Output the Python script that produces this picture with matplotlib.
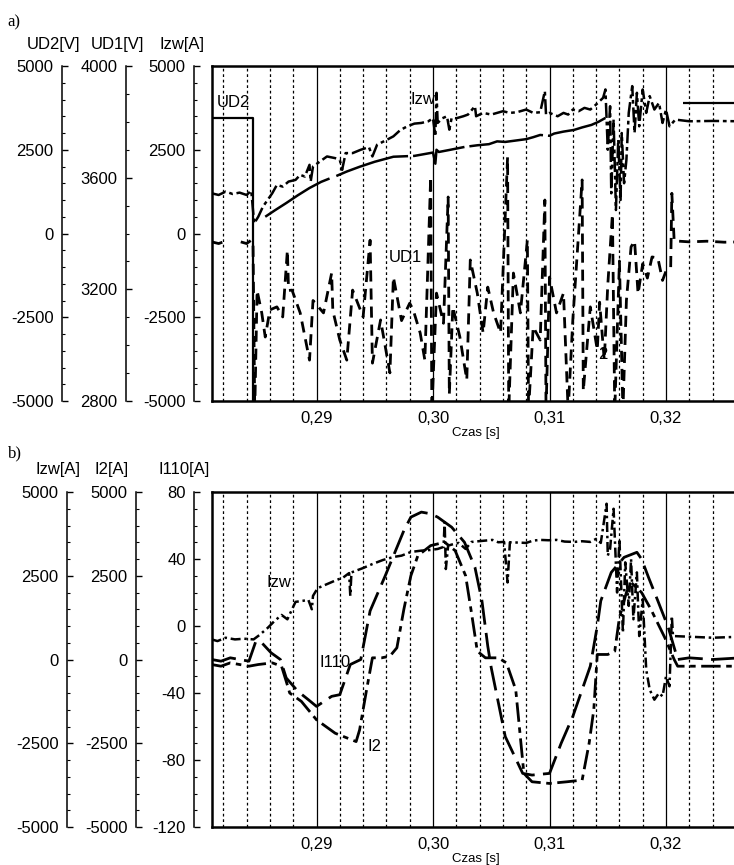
"""
Two-panel oscillogram: a) UD2, UD1, Izw and b) Izw, I2, I110 against time.
"""

import numpy as np
import matplotlib.pyplot as plt
from matplotlib.ticker import MultipleLocator

plt.rcParams['font.family'] = ['Liberation Sans', 'DejaVu Sans']

W, H = 734, 865
nan = np.nan

# ---------------- panel a) ----------------
ud2_t = [0.28103, 0.28455, 0.28455, nan, 0.3215, 0.3264]
ud2_v = [3450, 3450, -5300, nan, 3900, 3900]

izw_a_t = [0.2810, 0.2816, 0.2822, 0.2828, 0.2834, 0.2840, 0.2844, 0.28465, 0.2850, 0.2854,
           0.2858, 0.2862, 0.2866, 0.2871, 0.2876, 0.2882, 0.2886, 0.2890, 0.2894, 0.2895,
           0.2897, 0.2903, 0.2909, 0.2916, 0.2920, 0.2922, 0.2925, 0.2931, 0.2938, 0.2945,
           0.2948, 0.2952, 0.2960, 0.2966, 0.2972, 0.2978, 0.2984, 0.2990, 0.2996, 0.3000,
           0.3002, 0.3003, 0.3004, 0.3008, 0.3012, 0.3014, 0.3016, 0.3020, 0.3026, 0.3030,
           0.3036, 0.3037, 0.3043, 0.3050, 0.3055, 0.3060, 0.3066, 0.3072, 0.3080, 0.3086,
           0.3092, 0.3096, 0.3097, 0.3100, 0.3107, 0.3112, 0.3116, 0.3120, 0.3125, 0.3130,
           0.3135, 0.3140, 0.3146, 0.3148, 0.3150, 0.3152, 0.3153, 0.3155, 0.3157, 0.3159,
           0.3161, 0.3162, 0.3164, 0.3166, 0.3168, 0.3171, 0.3173, 0.3175, 0.3177, 0.3180,
           0.3183, 0.3186, 0.3190, 0.3194, 0.3197, 0.3200, 0.3203, 0.3208, 0.3220, 0.3240,
           0.3264]
izw_a_v = [1200, 1150, 1250, 1180, 1220, 1150, 1280, 300, 500, 800,
           1000, 1200, 1450, 1400, 1550, 1600, 1750, 1700, 2050, 1550,
           2000, 2150, 2300, 2250, 2200, 1900, 2400, 2400, 2500, 2580,
           2300, 2650, 2790, 2900, 3090, 3200, 3280, 3300, 3350, 3440,
           2900, 4200, 3300, 3440, 3500, 3100, 3450, 3440, 3500, 3550,
           3800, 3500, 3600, 3550, 3600, 3650, 3600, 3620, 3700, 3600,
           3620, 4250, 3550, 3600, 3500, 3600, 3550, 3700, 3650, 3750,
           3700, 3850, 4050, 4300, 2500, 3800, 1200, 3400, 700, 2800,
           1000, 3000, 1500, 2200, 3600, 4400, 3000, 4200, 3200, 4300,
           3600, 4100, 3700, 3900, 3300, 3700, 3200, 3400, 3350, 3360,
           3350]

ud1_t = [0.2856, 0.2865, 0.2874, 0.2884, 0.2894, 0.2904, 0.2913, nan, 0.2917, 0.2926,
         0.2937, 0.2950, 0.2966, 0.2984, 0.3000, 0.3002, 0.3003, 0.3005, 0.3015, 0.3027,
         0.3038, 0.3048, 0.3055, 0.3062, 0.3071, 0.3080, 0.3086, 0.3092, 0.3100, 0.3104,
         0.3112, 0.3121, 0.3128, 0.3136, 0.3142, 0.3148]
ud1_v = [3460, 3485, 3509, 3537, 3563, 3585, 3600, nan, 3606, 3622,
         3639, 3657, 3675, 3678, 3690, 3650, 3700, 3692, 3700, 3710,
         3716, 3720, 3730, 3728, 3733, 3738, 3745, 3753, 3750, 3758,
         3765, 3771, 3780, 3789, 3800, 3814]

i2_a_t = [0.2810, 0.2816, 0.2820, 0.2824, nan, 0.2835, 0.2840, 0.2844, 0.28455, 0.2847,
          0.2849, 0.2853, 0.2856, 0.2860, 0.2866, 0.2871, 0.2875, 0.2876, 0.2879, 0.2886,
          0.2894, 0.2897, 0.2906, 0.2913, 0.2914, 0.2920, 0.2926, 0.2931, 0.2940, 0.2946,
          0.2948, 0.2955, 0.2963, 0.2966, 0.2973, 0.2980, 0.2983, 0.2989, 0.2993, 0.2998,
          0.2999, 0.3003, 0.3009, 0.3013, 0.3014, 0.3017, 0.3023, 0.3029, 0.3032, 0.3038,
          0.3043, 0.3047, 0.3052, 0.3058, 0.3064, 0.3065, 0.3069, 0.3075, 0.3081, 0.3082,
          0.3086, 0.3092, 0.3096, 0.3097, 0.3100, 0.3106, 0.3112, 0.3116, 0.3120, 0.3128,
          0.3129, 0.3135, 0.3141, 0.3143, 0.3147, 0.3150, 0.3154, 0.3156, 0.3160, 0.3163,
          0.3166, 0.3170, 0.3173, 0.3176, 0.3180, 0.3184, 0.3188, 0.3193, 0.3197, 0.3200,
          0.3204, 0.3205, 0.3207, 0.3220, 0.3235, 0.3250, 0.3264]
i2_a_v = [-250, -300, -250, -200, nan, -250, -300, -200, -250, -5300,
          -1700, -2370, -3090, -2280, -2190, -2490, -500, -1700, -1690, -2370,
          -3780, -2000, -2370, -1180, -2300, -3180, -3780, -1690, -2490, -200,
          -3870, -2580, -4160, -1300, -2600, -2080, -2280, -2970, -3780, 1690,
          -5300, -1780, -2680, 1090, -4800, -2190, -3080, -4370, -790, -1780,
          -2970, -1600, -2370, -2970, 2280, -5300, -1180, -2370, -190, -5300,
          -2790, -3180, 1000, -5300, -1300, -2370, -1780, -5300, -2580, 1600,
          -4700, -2190, -3480, -2050, -3780, -1540, 580, -5300, -820, -5300,
          -2000, -400, -220, -1800, -900, -1330, -700, -730, -1400, -1120,
          -1030, 1200, -220, -250, -230, -260, -250]

# ---------------- panel b) ----------------
izw_b_t = [0.2810, 0.2815, 0.2822, 0.2830, 0.2838, 0.2846, 0.2851, 0.2858, 0.2864, 0.2870,
           0.2875, 0.2882, 0.2888, 0.2893, 0.2896, 0.2897, 0.2901, 0.2909, 0.2917, 0.2923,
           0.2928, 0.2929, 0.2930, 0.2940, 0.2948, 0.2957, 0.2966, 0.2973, 0.2981, 0.2990,
           0.2998, 0.3004, 0.3009, 0.3010, 0.3011, 0.3013, 0.3018, 0.3022, 0.3028, 0.3033,
           0.3042, 0.3051, 0.3056, 0.3061, 0.3064, 0.3066, 0.3073, 0.3080, 0.3086, 0.3092,
           0.3099, 0.3106, 0.3113, 0.3121, 0.3128, 0.3135, 0.3140, 0.3144, 0.3149, 0.3150,
           0.3152, 0.3155, 0.3158, 0.3160, 0.3163, 0.3165, 0.3168, 0.3170, 0.3172, 0.3175,
           0.3177, 0.3180, 0.3183, 0.3186, 0.3190, 0.3194, 0.3197, 0.3200, 0.3203, 0.3205,
           0.3206, 0.3220, 0.3240, 0.3264]
izw_b_v = [600, 550, 650, 600, 620, 600, 730, 940, 1150, 1330,
           1200, 1720, 1750, 1780, 1500, 1900, 2130, 2250, 2370, 2450,
           2580, 1900, 2600, 2730, 2850, 2970, 3060, 3100, 3210, 3250,
           3270, 3300, 3360, 4100, 2700, 3400, 3450, 3480, 3300, 3510,
           3540, 3570, 3500, 3510, 2300, 3500, 3490, 3480, 3550, 3570,
           3560, 3570, 3520, 3510, 3530, 3510, 3600, 3480, 4650, 3100,
           3300, 4500, 2000, 3600, 800, 2900, 1600, 3000, 1200, 2600,
           700, 1800, -300, -900, -1200, -1000, -1100, -500, -800, 1300,
           700, 680, 650, 680]

i110_t = [0.2810, 0.2818, 0.2826, 0.2834, 0.2842, 0.2848, 0.2853, 0.2861, 0.2869, 0.2874,
          0.2884, 0.2893, 0.2900, 0.2913, 0.2920, 0.2929, 0.2938, 0.2946, 0.2959, 0.2975,
          0.2981, 0.2990, 0.2998, 0.3004, 0.3016, 0.3027, 0.3036, 0.3042, 0.3047, 0.3050,
          0.3062, 0.3077, 0.3085, 0.3100, 0.3110, 0.3120, 0.3135, 0.3141, 0.3144, 0.3153,
          0.3164, 0.3175, 0.3179, 0.3185, 0.3193, 0.3202, 0.3210, 0.3220, 0.3240, 0.3264]
i110_v = [-20, -21, -19, -20, -21, -9, -10, -16, -20, -31,
          -39, -44, -48, -42, -41, -23, -20, 9, 30, 57,
          65, 68, 67, 65, 59, 50, 35, 15, -12, -25,
          -66, -88, -89, -88, -70, -54, -24, 0, 15, 32,
          41, 44, 40, 29, 15, -1, -20, -19, -20, -19]

i2_b_t = [0.2810, 0.2818, 0.2826, 0.2834, 0.2842, 0.2850, 0.2862, 0.2870, 0.2874, 0.2877,
          0.2887, 0.2900, 0.2916, 0.2934, 0.2937, 0.2943, 0.2948, 0.2956, 0.2963, 0.2969,
          0.2975, 0.2981, 0.2987, 0.2998, 0.3010, 0.3019, 0.3028, 0.3033, 0.3038, 0.3045,
          0.3056, 0.3063, 0.3071, 0.3078, 0.3085, 0.3100, 0.3115, 0.3128, 0.3134, 0.3138,
          0.3141, 0.3150, 0.3156, 0.3160, 0.3166, 0.3170, 0.3179, 0.3187, 0.3199, 0.3207,
          0.3210, 0.3230, 0.3264]
i2_b_v = [-150, -200, -100, -150, -200, -150, -100, -200, -650, -1000,
          -1250, -1800, -2200, -2450, -2100, -900, 50, 50, 100, 350,
          1500, 2500, 3100, 3400, 3500, 3250, 2500, 1400, 250, 50,
          50, -100, -900, -3400, -3650, -3700, -3650, -3600, -2500, -1500,
          150, 150, 250, 1250, 2000, 2300, 2000, 1500, 650, 0,
          -200, -200, -200]

time_ticks = [0.29, 0.30, 0.31, 0.32]
time_labels = ['0,29', '0,30', '0,31', '0,32']

t_left, t_right = 0.28103, 0.32635   # at pixel 212 and 740
box_left_px, box_right_px = 212, 740


def fx(px):
    return px / W


def fy(py):
    return 1 - py / H


def scale_axis(fig, x_px, top_px, bot_px, ylim, ticks, minor, title, title_x, title_y):
    ax = fig.add_axes([fx(x_px), fy(bot_px), 0.0005, (bot_px - top_px) / H])
    ax.set_ylim(*ylim)
    for s in ['top', 'right', 'bottom']:
        ax.spines[s].set_visible(False)
    ax.spines['left'].set_linewidth(1.1)
    ax.set_xticks([])
    ax.set_yticks(ticks)
    ax.set_yticklabels([str(v) for v in ticks])
    ax.yaxis.set_minor_locator(MultipleLocator(minor))
    ax.tick_params(axis='y', which='major', direction='in', length=4, width=1, pad=6, labelsize=12)
    ax.tick_params(axis='y', which='minor', direction='in', length=2, width=0.8)
    ax.patch.set_visible(False)
    fig.text(fx(title_x), fy(title_y), title, ha='center', va='center', fontsize=12)
    return ax


def main_axes(fig, top_px, bot_px, ylim):
    ax = fig.add_axes([fx(box_left_px), fy(bot_px), (box_right_px - box_left_px) / W,
                       (bot_px - top_px) / H])
    ax.set_xlim(t_left, t_right)
    ax.set_ylim(*ylim)
    ax.spines['right'].set_visible(False)
    for s in ['left', 'top', 'bottom']:
        ax.spines[s].set_linewidth(1.8)
    ax.set_yticks([])
    ax.set_xticks(time_ticks)
    ax.set_xticklabels(time_labels)
    ax.xaxis.set_minor_locator(MultipleLocator(0.002))
    ax.tick_params(axis='x', which='both', length=0, pad=7, labelsize=12)
    ax.grid(which='major', axis='x', color='black', linewidth=0.9, linestyle='-')
    ax.grid(which='minor', axis='x', color='black', linewidth=0.9, linestyle=(0, (2.2, 2.2)))
    ax.set_axisbelow(True)
    ax.set_xlabel('Czas [s]', fontsize=9.5, labelpad=1)
    return ax


def overlay(ax, ylim):
    tw = ax.twinx()
    tw.set_ylim(*ylim)
    tw.axis('off')
    return tw


fig = plt.figure(figsize=(W / 100, H / 100), dpi=100)

# ---- panel a ----
a_top, a_bot = 66, 401
fig.text(fx(7), fy(22), 'a)', fontsize=12, family='Liberation Serif', va='center')
scale_axis(fig, 62, a_top, a_bot, (-5000, 5000), [-5000, -2500, 0, 2500, 5000], 500, 'UD2[V]', 54, 44)
scale_axis(fig, 126, a_top, a_bot, (2800, 4000), [2800, 3200, 3600, 4000], 100, 'UD1[V]', 117, 44)
scale_axis(fig, 194, a_top, a_bot, (-5000, 5000), [-5000, -2500, 0, 2500, 5000], 500, 'Izw[A]', 182, 44)

ax_a = main_axes(fig, a_top, a_bot, (-5000, 5000))
ax_a.plot(ud2_t, ud2_v, color='black', lw=1.6, solid_capstyle='butt')
ax_a.plot(izw_a_t, izw_a_v, color='black', lw=1.8, linestyle=(0, (6, 1.5, 1.5, 1.5)))
ax_a.plot(i2_a_t, i2_a_v, color='black', lw=2.0, linestyle=(0, (4, 2.5)))
ax_ud1 = overlay(ax_a, (2800, 4000))
ax_ud1.plot(ud1_t, ud1_v, color='black', lw=1.8, linestyle=(0, (30, 2)))

ax_a.text(0.2814, 3920, 'UD2', fontsize=12, ha='left', va='center')
ax_a.text(0.2991, 4000, 'Izw', fontsize=12, ha='center', va='center')
ax_a.text(0.2976, -730, 'UD1', fontsize=12, ha='center', va='center')
ax_a.text(0.3146, -3620, '2', fontsize=12, ha='center', va='center')

# ---- panel b ----
b_top, b_bot = 492, 827
fig.text(fx(8), fy(453), 'b)', fontsize=12, family='Liberation Serif', va='center')
scale_axis(fig, 67, b_top, b_bot, (-5000, 5000), [-5000, -2500, 0, 2500, 5000], 500, 'Izw[A]', 58, 470)
scale_axis(fig, 136, b_top, b_bot, (-5000, 5000), [-5000, -2500, 0, 2500, 5000], 500, 'I2[A]', 112, 470)
scale_axis(fig, 194, b_top, b_bot, (-120, 80), [-120, -80, -40, 0, 40, 80], 10, 'I110[A]', 184, 470)

ax_b = main_axes(fig, b_top, b_bot, (-120, 80))
ax_b.plot(i110_t, i110_v, color='black', lw=2.0, linestyle=(0, (9, 3)))
ax_bi = overlay(ax_b, (-5000, 5000))
ax_bi.plot(i2_b_t, i2_b_v, color='black', lw=2.0, linestyle=(0, (7, 2, 2, 2)))
ax_bi.plot(izw_b_t, izw_b_v, color='black', lw=1.8, linestyle=(0, (4, 1.5, 1, 1.5)))

ax_b.text(0.2868, 26, 'Izw', fontsize=12, ha='center', va='center')
ax_b.text(0.2916, -21.5, 'I110', fontsize=12, ha='center', va='center')
ax_b.text(0.2950, -72, 'I2', fontsize=12, ha='center', va='center')

fig.savefig('out.png', dpi=100)
